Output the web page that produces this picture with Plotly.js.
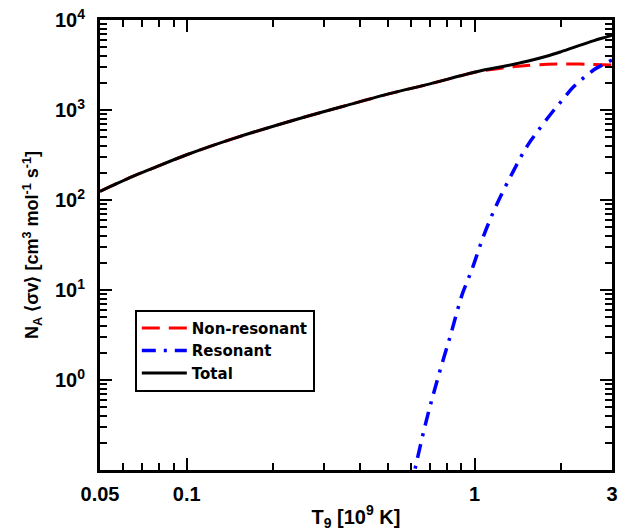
<!DOCTYPE html>
<html>
<head>
<meta charset="utf-8">
<script src="https://cdn.plot.ly/plotly-3.0.1.min.js"></script>
<style>html,body{margin:0;padding:0;background:#fff;}#chart{width:626px;height:531px;}</style>
</head>
<body>
<div id="chart"></div>
<script>
// Temperature grid (T9) and rates
const tNonRes = [0.05, 0.065, 0.075, 0.1, 0.146, 0.245, 0.343, 0.511, 0.7, 0.894, 1.05, 1.2, 1.37, 1.52, 1.79, 2.0, 2.33, 2.6, 3.0];
const nonResonant = [125, 183, 220, 318, 484, 800, 1080, 1530, 1950, 2400, 2710, 2880, 3030, 3130, 3220, 3250, 3240, 3210, 3160];

const tRes = [0.6, 0.62, 0.676, 0.742, 0.825, 0.906, 0.943, 0.982, 1.077, 1.199, 1.369, 1.524, 1.651, 1.886, 2.016, 2.21, 2.596, 2.77, 3.0];
const resonant = [0.06, 0.1, 0.33, 1.0, 3.16, 9.0, 12.5, 17.4, 40.8, 92, 215, 400, 574, 1000, 1290, 1820, 2800, 3150, 3600];

const tTotal = [0.05, 0.065, 0.075, 0.1, 0.146, 0.245, 0.343, 0.511, 0.7, 0.894, 1.05, 1.2, 1.37, 1.524, 1.79, 2.0, 2.33, 2.6, 2.89, 3.0];
const total = [125, 183, 220, 318, 484, 800, 1080, 1530, 1950, 2400, 2730, 2960, 3230, 3480, 3980, 4450, 5250, 5900, 6540, 6800];

const seriesNames = ["Non-resonant", "Resonant", "Total"];

const yTickVals = [1, 10, 100, 1000, 10000];
const yTickText = ["10<sup>0</sup>", "10<sup>1</sup>", "10<sup>2</sup>", "10<sup>3</sup>", "10<sup>4</sup>"];
const xTickVals = [0.05, 0.1, 1, 3];
const xTickText = ["0.05", "0.1", "1", "3"];
const yMinorVals = [];
[0.1, 1, 10, 100, 1000].forEach(d => { for (let k = 2; k <= 9; k++) yMinorVals.push(k * d); });
const xMinorVals = [0.06, 0.07, 0.08, 0.09, 0.2, 0.3, 0.4, 0.5, 0.6, 0.7, 0.8, 0.9, 2];

const FONT = "Liberation Sans, Arial, sans-serif";
const bold = s => "<b>" + s + "</b>";

const traces = [
  {x: tNonRes, y: nonResonant, name: bold(seriesNames[0]), mode: "lines",
   line: {color: "#ff0000", width: 3, dash: "18px,9px", shape: "spline"}},
  {x: tRes, y: resonant, name: bold(seriesNames[1]), mode: "lines",
   line: {color: "#0000ff", width: 3.5, dash: "14px,8px,3px,8px", shape: "spline"}},
  {x: tTotal, y: total, name: bold(seriesNames[2]), mode: "lines",
   line: {color: "#000000", width: 3, shape: "spline"}}
];

const axisCommon = {
  showline: true, linewidth: 3, linecolor: "#000", mirror: "allticks",
  ticks: "inside", ticklen: 12, tickwidth: 2, tickcolor: "#000",
  showgrid: false, zeroline: false, automargin: false,
  tickfont: {family: FONT, size: 20, color: "#000"}
};

const layout = {
  width: 626, height: 531,
  margin: {l: 100, r: 14, t: 20, b: 61},
  paper_bgcolor: "#fff", plot_bgcolor: "#fff",
  font: {family: FONT, color: "#000"},
  showlegend: true,
  xaxis: Object.assign({}, axisCommon, {
    type: "log", range: [Math.log10(0.05), Math.log10(3)],
    tickmode: "array", tickvals: xTickVals, ticktext: xTickText.map(bold),
    ticklabelstandoff: 4,
    minor: {tickmode: "array", tickvals: xMinorVals, ticks: "inside", ticklen: 7, tickwidth: 2, tickcolor: "#000"},
    title: {text: bold("T<sub>9</sub> [10<sup>9</sup> K]"), font: {family: FONT, size: 20, color: "#000"}, standoff: 6}
  }),
  yaxis: Object.assign({}, axisCommon, {
    type: "log", range: [-1, 4],
    tickmode: "array", tickvals: yTickVals, ticktext: yTickText.map(bold),
    ticklabelstandoff: 8,
    minor: {tickmode: "array", tickvals: yMinorVals, ticks: "inside", ticklen: 7, tickwidth: 2, tickcolor: "#000"},
    title: {text: bold("N<sub>A</sub> ⟨σv⟩ [cm<sup>3</sup> mol<sup>-1</sup> s<sup>-1</sup>]"), font: {family: FONT, size: 18, color: "#000"}, standoff: 12}
  }),
  legend: {
    x: 0.068, y: 0.356, xanchor: "left", yanchor: "top",
    bgcolor: "#fff", bordercolor: "#000", borderwidth: 2,
    font: {family: "DejaVu Sans, Liberation Sans, sans-serif", size: 15, color: "#000"},
    itemwidth: 45, tracegroupgap: 0
  }
};

Plotly.newPlot("chart", traces, layout, {staticPlot: true, displayModeBar: false});
</script>
</body>
</html>
